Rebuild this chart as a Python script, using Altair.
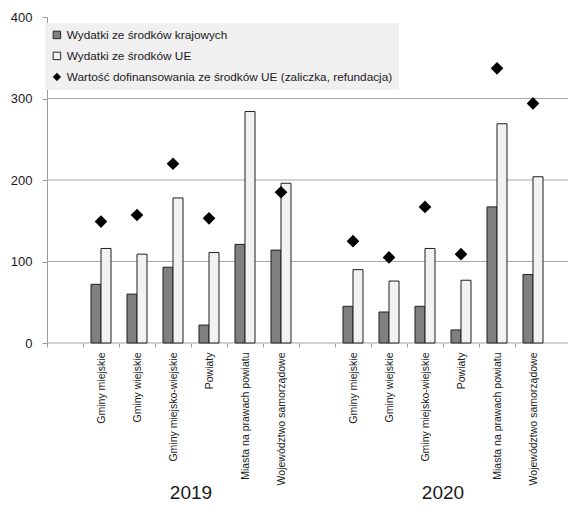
import altair as alt
import pandas as pd

FONT = "Liberation Sans, Arial, sans-serif"

years = ["2019", "2020"]
categories = [
    "Gminy miejskie",
    "Gminy wiejskie",
    "Gminy miejsko-wiejskie",
    "Powiaty",
    "Miasta na prawach powiatu",
    "Województwo samorządowe",
]
series_names = [
    "Wydatki ze środków krajowych",
    "Wydatki ze środków UE",
    "Wartość dofinansowania ze środków UE (zaliczka, refundacja)",
]
domestic = {
    "2019": [72, 60, 93, 22, 121, 114],
    "2020": [45, 38, 45, 16, 167, 84],
}
eu = {
    "2019": [116, 109, 178, 111, 284, 196],
    "2020": [90, 76, 116, 77, 269, 204],
}
cofin = {
    "2019": [149, 157, 220, 153, None, 185],
    "2020": [125, 105, 167, 109, 337, 294],
}
y_ticks = [0, 100, 200, 300, 400]
grid_values = [100, 200, 300]

slots = ["_gap0"] + [f"2019|{c}" for c in categories] + ["_gap1"] + [f"2020|{c}" for c in categories]

bar_rows, pt_rows = [], []
for y in years:
    for i, c in enumerate(categories):
        key = f"{y}|{c}"
        bar_rows.append({"key": key, "series": series_names[0], "amount": domestic[y][i]})
        bar_rows.append({"key": key, "series": series_names[1], "amount": eu[y][i]})
        if cofin[y][i] is not None:
            pt_rows.append({"key": key, "series": series_names[2], "amount": cofin[y][i]})
bars_df = pd.DataFrame(bar_rows)
pts_df = pd.DataFrame(pt_rows)
grid_df = pd.DataFrame({"amount": [0] + grid_values})
year_df = pd.DataFrame({"key": [f"{y}|{categories[3]}" for y in years], "year": years})

x_scale = alt.Scale(domain=slots, paddingInner=0, paddingOuter=0.236, align=0)
x_axis = alt.Axis(
    title=None,
    tickOffset=-18,
    labelOffset=18,
    labelAngle=270,
    labelExpr="indexof(datum.value, '|') > 0 ? split(datum.value, '|')[1] : ''",
    domain=False,
    tickSize=4,
    tickColor="#9a9a9a",
    labelPadding=5,
    labelFont=FONT,
    labelFontSize=10.5,
    labelColor="#1a1a1a",
    labelOverlap=False,
    labelLimit=300,
    grid=False,
)
y_scale = alt.Scale(domain=[0, 400], nice=False)
y_axis = alt.Axis(
    title=None,
    values=y_ticks,
    grid=False,
    domainColor="#9a9a9a",
    tickColor="#9a9a9a",
    tickSize=5,
    labelPadding=10,
    labelFont=FONT,
    labelFontSize=13,
    labelColor="#1a1a1a",
)

color_scale = alt.Scale(domain=series_names, range=["#808080", "#f2f2f2", "#000000"])
shape_scale = alt.Scale(domain=series_names, range=["square", "square", "diamond"])
legend = alt.Legend(
    title=None,
    orient="none",
    legendX=-2,
    legendY=6,
    fillColor="#f0f0f0",
    padding=6,
    rowPadding=8,
    labelFont=FONT,
    labelFontSize=11.8,
    labelColor="#1a1a1a",
    labelLimit=500,
    labelOffset=4,
    symbolSize=56,
    symbolStrokeColor="#262626",
    symbolStrokeWidth=1,
)

x_enc = alt.X("key:N", scale=x_scale, axis=x_axis, sort=slots)
y_enc = alt.Y("amount:Q", scale=y_scale, axis=y_axis)

gridlines = alt.Chart(grid_df).mark_rule(color="#a6a6a6", strokeWidth=1).encode(y=alt.Y("amount:Q"))

bars = alt.Chart(bars_df).mark_bar(stroke="#1f1f1f", strokeWidth=1).encode(
    x=x_enc,
    xOffset=alt.XOffset("series:N", scale=alt.Scale(domain=series_names[:2], paddingInner=0, paddingOuter=0.8)),
    y=y_enc,
    color=alt.Color("series:N", scale=color_scale, legend=legend),
)

points = alt.Chart(pts_df).mark_point(filled=True, size=160, opacity=1).encode(
    x=x_enc,
    y=y_enc,
    color=alt.Color("series:N", scale=color_scale, legend=legend),
    shape=alt.Shape("series:N", scale=shape_scale, legend=legend),
)

year_text = alt.Chart(year_df).mark_text(
    font=FONT, fontSize=19, baseline="alphabetic", align="center", color="#1a1a1a", dx=-18
).encode(
    x=alt.X("key:N"),
    y=alt.value(482),
    text="year:N",
)

chart = alt.layer(gridlines, bars, points, year_text).properties(
    width=521,
    height=326,
    autosize=alt.AutoSizeParams(type="none"),
    padding={"left": 39, "top": 9, "right": 0, "bottom": 161},
).configure_view(strokeOpacity=0)

chart.save("out.html", embed_options={"renderer": "svg", "actions": False})
